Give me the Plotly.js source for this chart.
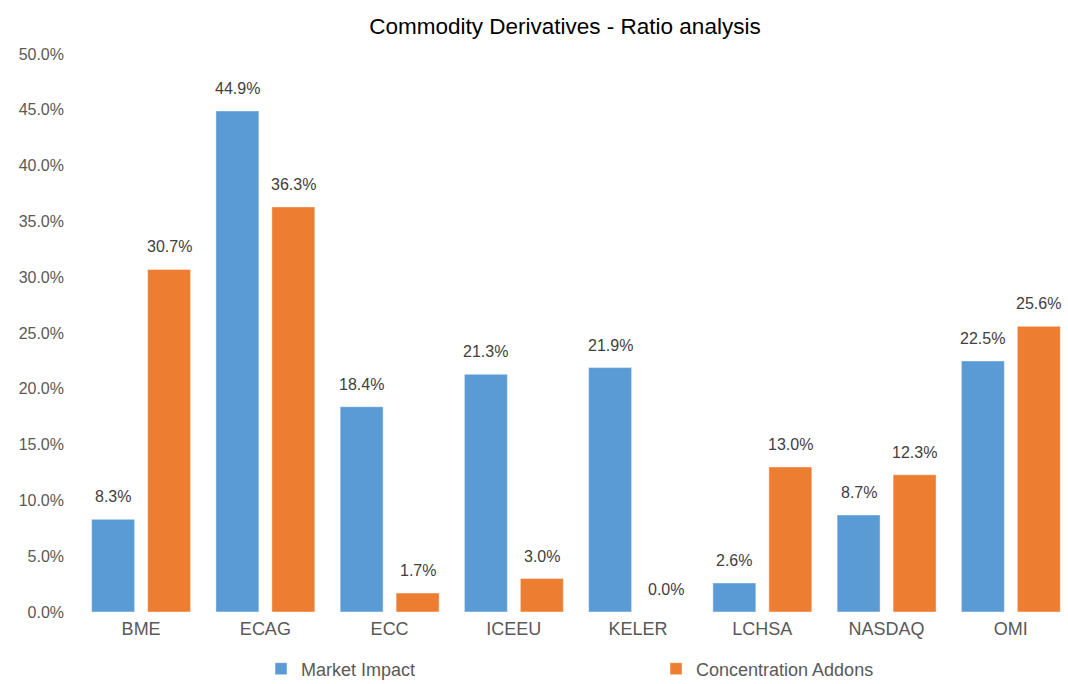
<!DOCTYPE html>
<html>
<head>
<meta charset="utf-8">
<script src="https://cdn.plot.ly/plotly-3.0.1.min.js"></script>
<style>html,body{margin:0;padding:0;background:#fff;}#chart{width:1068px;height:684px;}</style>
</head>
<body>
<div id="chart"></div>
<script>
var categories = ["BME", "ECAG", "ECC", "ICEEU", "KELER", "LCHSA", "NASDAQ", "OMI"];
var marketImpact = [0.083, 0.449, 0.184, 0.213, 0.219, 0.026, 0.087, 0.225];
var concentrationAddons = [0.307, 0.363, 0.017, 0.030, 0.000, 0.130, 0.123, 0.256];
var seriesNames = ["Market Impact", "Concentration Addons"];
var tickVals = [0, 0.05, 0.10, 0.15, 0.20, 0.25, 0.30, 0.35, 0.40, 0.45, 0.50];

var font = "Liberation Sans, Arial, sans-serif";
var colors = ["#5B9BD5", "#ED7D31"];
var series = [marketImpact, concentrationAddons];

var data = series.map(function (vals, i) {
  return {
    type: "bar", name: seriesNames[i], x: categories, y: vals,
    marker: {color: colors[i], line: {color: "rgba(255,255,255,0.45)", width: 1}},
    hoverinfo: "x+y"
  };
});

// value labels above each bar
var annotations = [];
var shifts = [-28, 28];
series.forEach(function (vals, i) {
  vals.forEach(function (v, j) {
    annotations.push({
      x: categories[j], y: v, xref: "x", yref: "y",
      text: (v * 100).toFixed(1) + "%", showarrow: false,
      xanchor: "center", yanchor: "bottom", xshift: shifts[i], yshift: 12,
      font: {family: font, size: 16, color: "#404040"}
    });
  });
});

var layout = {
  width: 1068, height: 684,
  margin: {l: 79, r: 0, t: 54, b: 72},
  paper_bgcolor: "#fff", plot_bgcolor: "#fff",
  title: {text: "Commodity Derivatives - Ratio analysis", x: 0.529, xanchor: "center", y: 0.962, yanchor: "middle",
          font: {family: font, size: 22.5, color: "#000"}},
  barmode: "group", bargap: 0.099, bargroupgap: 0.232,
  xaxis: {range: [-0.5, 7.46], tickfont: {family: font, size: 18, color: "#595959"}, showline: false, ticks: "",
          showgrid: false, zeroline: false, ticklabelstandoff: 4, fixedrange: true},
  yaxis: {range: [0, 0.5], tickvals: tickVals, tickformat: ".1%", tickfont: {family: font, size: 16, color: "#595959"},
          showgrid: false, zeroline: false, showline: false, ticks: "", fixedrange: true, ticklabelstandoff: 14},
  annotations: annotations,
  showlegend: true,
  legend: {orientation: "h", xref: "container", yref: "container", x: 0.2444, xanchor: "left",
           y: 0.022, yanchor: "middle",
           entrywidth: 350, entrywidthmode: "pixels", traceorder: "normal",
           font: {family: font, size: 18, color: "#595959"}}
};
Plotly.newPlot("chart", data, layout, {displayModeBar: false, staticPlot: true});
</script>
</body>
</html>
